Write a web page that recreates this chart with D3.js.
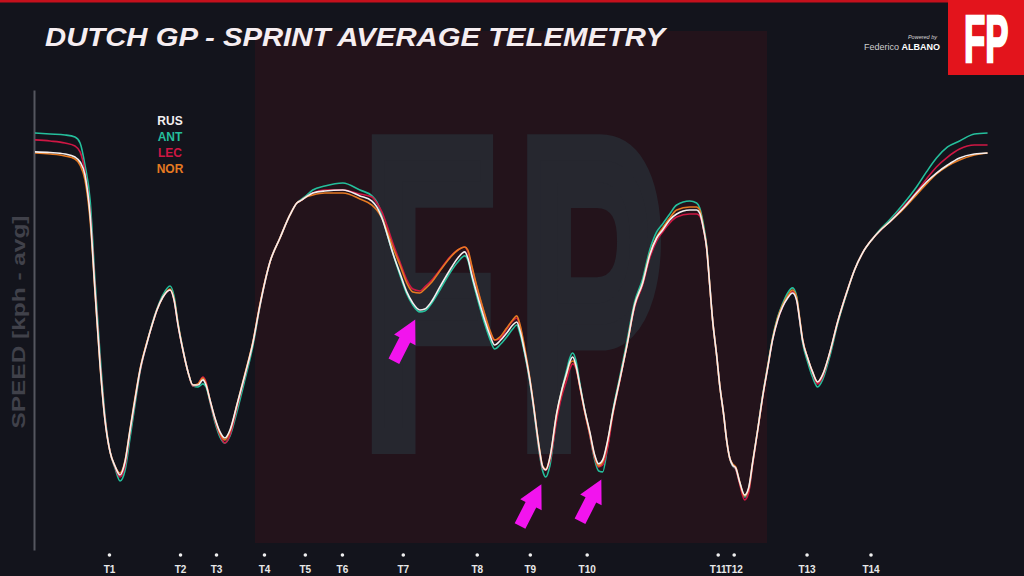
<!DOCTYPE html>
<html><head><meta charset="utf-8">
<script src="https://cdn.jsdelivr.net/npm/d3@7"></script>
<style>html,body{margin:0;padding:0;background:#13141c;}svg{display:block;}</style>
</head><body>
<svg id="chart" width="1024" height="576"></svg>
<script>
// distance along lap (m)
const distance = [0,68,135,180,203,225,248,270,293,315,338,360,383,405,428,450,473,504,527,549,
576,608,626,644,666,689,711,734,756,770,788,810,833,855,878,909,945,981,1013,1058,
1103,1148,1179,1202,1220,1251,1305,1386,1463,1517,1539,1562,1584,1611,1643,1674,1701,1733,1755,1787,
1823,1868,1904,1935,1949,1967,1989,2025,2048,2070,2093,2124,2151,2169,2183,2205,2228,2246,2259,2273,
2286,2300,2318,2349,2372,2394,2408,2421,2435,2453,2475,2498,2520,2538,2556,2579,2601,2633,2664,2700,
2736,2768,2799,2826,2858,2889,2948,2979,2993,3011,3024,3038,3051,3069,3083,3101,3114,3128,3141,3155,
3173,3195,3213,3231,3254,3276,3299,3321,3344,3366,3389,3411,3429,3443,3456,3479,3501,3524,3546,3578,
3614,3654,3690,3726,3767,3803,3848,3906,3969,4014,4059,4109,4163,4230,4289];

// average speed (kph)
const rus = [311.3,310.9,310,308.1,305,296.9,271.9,225,178.1,143.8,123.8,115,109.4,117.5,137.5,156.3,175,191.9,203.1,212.5,
220.6,225,218.8,203.1,187.5,173.8,165.6,165.6,168.8,165.6,156.3,145,136.3,132.5,137.5,153.1,171.9,191.9,215.6,242.5,
257.5,271.9,279.4,281.3,283.1,285.6,286.9,287.5,283.8,280.6,276.9,270,260.6,248.1,235.6,223.8,216.9,212.5,213.1,218.1,
226.9,237.5,245,248.8,245,234.4,223.1,206.3,196.9,190.6,193.1,198.1,203.1,205,200,186.3,168.8,151.3,137.5,123.8,
114.4,112.5,120,148.1,162.5,173.1,180,183.1,178.1,165.6,150,136.3,121.9,116.3,118.8,131.3,148.1,168.8,189.4,215.6,
229.4,246.9,257.5,262.5,268.8,272.5,275,275,273.1,262.5,251.3,228.1,206.3,184.4,165.6,146.9,131.3,120,115.6,113.8,
105,96.9,101.3,116.9,137.5,158.1,176.3,193.8,206.3,214.4,220,223.1,218.8,206.3,193.8,182.5,173.8,167.5,171.9,185.6,
205,223.1,237.5,248.1,256.3,261.9,267.5,275.6,285.6,292.5,298.1,303.1,307.5,310,310.6];

const ant = [323.1,322.5,321.9,320.6,316.9,303.1,281.3,231.3,184.4,146.9,123.8,113.8,105.6,112,132.5,153.1,173.8,191.9,203.8,213.1,
221.9,227.5,221.3,204.4,188.1,173.8,165,164.4,166.3,164.4,155,142.5,133.1,129.4,133.8,148.8,168.8,190,215,242.5,
257.5,271.9,279.4,281.9,283.8,287.5,290,291.9,287.5,283.8,280,271.9,260.6,248.1,234.4,222.5,215.6,211.3,211.9,216.9,
225,235.6,242.5,246.3,243.8,233.1,221.3,203.8,194.4,188.1,190.6,195.6,200.6,203.1,198.1,185,167.5,150,135.6,121.3,
111.9,108.1,115,146.3,162.5,175,182.5,185.6,181.3,166.9,150,134.4,118.8,111.9,111.3,128.1,148.8,170.6,191.9,217.5,
231.9,250,261.3,266.3,272.5,278.1,280.6,279.4,276.3,265,253.1,228.8,206.3,184.4,165.6,146.9,131.3,120,115,113.1,
104.4,95.6,99.4,116.3,137.5,158.8,177.5,195,208.1,216.3,223.1,226.3,221.3,206.3,192.5,180,170.6,164.4,168.8,183.1,
203.8,222.5,237.5,248.1,256.3,262.5,268.8,278.1,289.4,298.8,307.5,314.4,318.1,322.5,323.1];

const lec = [318.8,318.1,316.9,315,311.3,298.8,273.8,226.9,180,145,123.8,114.4,108.1,115,136.3,155.6,174.4,191.9,203.1,212.5,
220.6,225,218.8,203.1,187.5,173.8,165,166.3,170.6,167.5,155.6,143.8,134.4,129.4,134.4,151.3,171.3,191.9,215.6,242.5,
257.5,271.9,279.4,281.3,283.1,285.6,287.5,287.5,285,283.1,279.4,273.8,265.6,254.4,242.5,231.3,225.6,224.4,226.9,231.3,
237.5,245.6,250,251.9,248.8,238.8,226.9,209.4,198.8,193.8,194.4,200.6,205.6,207.5,202.5,187.5,168.8,151.3,136.9,122.5,
113.8,112.5,118,143.8,158.8,168.8,175.6,178.8,176.3,164.4,148.8,134.4,120,114.4,115.6,126.9,146.3,168.1,189.4,214.4,
228.1,245,255.6,261.3,266.9,270.6,272.5,272.5,271.3,262.5,251.3,228.1,206.3,184.4,165.6,146.9,131.3,120,115.6,113.1,
103.8,93.8,98.1,115.6,136.9,157.5,176.3,193.8,206.3,214.4,220.6,223.8,219.4,206.3,193.8,182.5,173.1,166.3,170.6,185,
205,223.1,237.5,248.1,256.3,261.9,267.5,276.3,286.3,294.4,301.9,308.1,313.1,315.6,315.6];

const nor = [310.6,310,308.8,306.9,303.1,293.8,268.8,223.8,177.5,143.8,123.8,115,110.6,118.1,138.1,157.5,175.6,192.5,203.1,212.5,
220.6,225.6,219.4,203.8,187.5,173.8,165.6,166.3,170,166.3,156.3,145,135.6,131.3,136.9,153.1,172.5,192.5,216.3,242.5,
257.5,271.9,279.4,281.3,283.1,284.4,285.6,285.6,281.9,278.1,275,270,262.5,251.9,240.6,229.4,223.8,223.1,225.6,230,
236.9,245,250,251.9,250,240,227.5,210,200,193.8,195.6,201.3,206.3,208.8,203.8,188.8,170,152.5,138.1,124.4,
115,113.1,120,147.5,161.9,172.5,178.8,180.6,177.5,165,149.4,135.6,121.3,115,117.5,130.6,147.5,168.8,189.4,215.6,
229.4,247.5,258.1,263.8,270,275,276.9,276.9,275,263.1,251.9,228.1,206.3,184.4,165.6,146.9,131.3,120,116.3,114.4,
105,96.3,100.6,116.9,137.5,158.1,176.9,194.4,207.5,215.6,221.3,225,220.6,207.5,194.4,182.5,173.8,167.5,171.9,185.6,
205,223.1,237.5,248.1,256.3,261.9,267.5,275,284.4,291.3,297.5,302.5,306.3,309.4,310.6];

const drivers = ["RUS", "ANT", "LEC", "NOR"];
const driverColors = ["#f4eff0", "#25bf9c", "#cf1744", "#e67a22"];

const corners = ["T1","T2","T3","T4","T5","T6","T7","T8","T9","T10","T11","T12","T13","T14"];
const cornerDist = [333,653,815,1031,1215,1382,1656,1989,2228,2484,3074,3146,3474,3762];

// highlighted spots (ANT slower)
const arrowDist = [1712, 2280, 2550];
const arrowSpeed = [211, 108, 111];

const svg = d3.select("#chart");
const W = 1024, H = 576;
const FONT = "Liberation Sans, Arial, sans-serif";

svg.append("rect").attr("width", W).attr("height", H).attr("fill", "#13141c");

// watermark
svg.append("rect").attr("x", 255).attr("y", 31).attr("width", 512).attr("height", 512).attr("fill", "#23131b");
svg.append("text").attr("transform", "translate(364,441) scale(0.5,1)")
  .attr("font-family", FONT).attr("font-weight", "bold").attr("font-size", 427)
  .attr("letter-spacing", 50)
  .attr("fill", "#26272f").attr("stroke", "#26272f").attr("stroke-width", 26).attr("stroke-linejoin", "miter")
  .text("FP");

// top red line + logo
svg.append("rect").attr("x", 0).attr("y", 0).attr("width", W).attr("height", 2.5).attr("fill", "#c4101c");
svg.append("rect").attr("x", 948).attr("y", 0).attr("width", 76).attr("height", 75).attr("fill", "#e3141c");
svg.append("text").attr("transform", "translate(964,62) scale(0.527,1)")
  .attr("font-family", FONT).attr("font-weight", "bold").attr("font-size", 66)
  .attr("fill", "#ffffff").attr("stroke", "#ffffff").attr("stroke-width", 2.5)
  .text("FP");

svg.append("text").attr("x", 937).attr("y", 39).attr("text-anchor", "end")
  .attr("font-family", FONT).attr("font-style", "italic")
  .attr("font-size", 5.5).attr("fill", "#d8d8d8").text("Powered by");
const sig = svg.append("text").attr("x", 940).attr("y", 50).attr("text-anchor", "end")
  .attr("font-family", FONT).attr("font-size", 9).attr("fill", "#cfcfcf");
sig.append("tspan").text("Federico ");
sig.append("tspan").attr("font-weight", "bold").attr("fill", "#ffffff").text("ALBANO");

// title
svg.append("text").attr("x", 45).attr("y", 46)
  .attr("font-family", FONT).attr("font-weight", "bold").attr("font-style", "italic")
  .attr("font-size", 26).attr("textLength", 620).attr("lengthAdjust", "spacingAndGlyphs")
  .attr("fill", "#f6eef1").text("DUTCH GP - SPRINT AVERAGE TELEMETRY");

// scales
const x = d3.scaleLinear().domain([0, 4300]).range([35, 990]);
const y = d3.scaleLinear().domain([62.5, 350]).range([550, 90]);

// y axis (no ticks)
const yAxis = svg.append("g").attr("transform", "translate(34,0)")
  .call(d3.axisLeft(y).tickValues([]).tickSizeOuter(0));
yAxis.select(".domain").attr("stroke", "#55565f").attr("stroke-width", 2);

svg.append("text").attr("transform", "translate(25,322) rotate(-90)")
  .attr("text-anchor", "middle")
  .attr("font-family", FONT).attr("font-weight", "bold")
  .attr("font-size", 18).attr("textLength", 213).attr("lengthAdjust", "spacingAndGlyphs")
  .attr("fill", "#40414a").text("SPEED [kph - avg]");

// x axis with corners
const xAxis = svg.append("g").attr("transform", "translate(0,550)")
  .call(d3.axisBottom(x).tickValues(cornerDist).tickFormat((d, i) => corners[i]).tickSize(0).tickPadding(16));
xAxis.select(".domain").remove();
xAxis.selectAll(".tick text").attr("fill", "#e8e8e8")
  .attr("font-family", FONT).attr("font-weight", "bold").attr("font-size", 10);
xAxis.selectAll(".tick").append("circle").attr("cx", 0).attr("cy", 5).attr("r", 1.8).attr("fill", "#f0f0f0");

// lines
const series = [rus, ant, lec, nor];
const line = d3.line().x((d, i) => x(distance[i])).y(d => y(d)).curve(d3.curveMonotoneX);
const drawOrder = [1, 2, 3, 0];
drawOrder.forEach(k => {
  svg.append("path").datum(series[k]).attr("d", line)
    .attr("fill", "none").attr("stroke", driverColors[k]).attr("stroke-width", 1.6)
    .attr("stroke-linejoin", "round");
});

// legend
drivers.forEach((name, i) => {
  svg.append("text").attr("x", 170).attr("y", 125 + i * 16).attr("text-anchor", "middle")
    .attr("font-family", FONT).attr("font-weight", "bold")
    .attr("font-size", 12).attr("fill", driverColors[i]).text(name);
});

// arrows
const arrowPath = "M0,0 L12,23 L6,23 L6,47 L-6,47 L-6,23 L-12,23 Z";
arrowDist.forEach((d, i) => {
  svg.append("path").attr("d", arrowPath)
    .attr("transform", `translate(${x(d)},${y(arrowSpeed[i]) + 7}) rotate(27)`)
    .attr("fill", "#f214ee");
});
</script>
</body></html>
